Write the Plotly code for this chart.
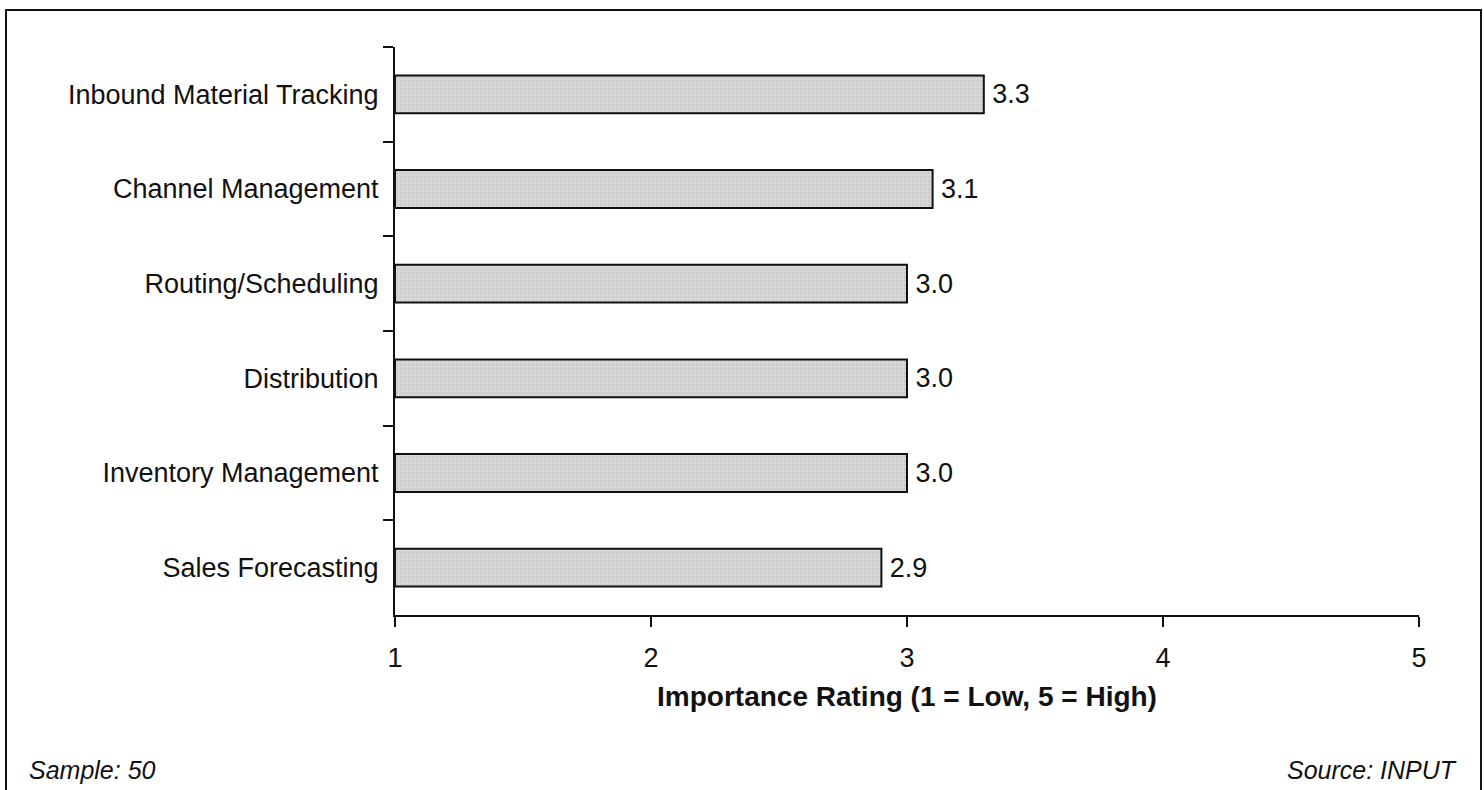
import plotly.graph_objects as go

# Survey results: importance of logistics applications
categories = [
    "Inbound Material Tracking",
    "Channel Management",
    "Routing/Scheduling",
    "Distribution",
    "Inventory Management",
    "Sales Forecasting",
]
ratings = [3.3, 3.1, 3.0, 3.0, 3.0, 2.9]
x_ticks = [1, 2, 3, 4, 5]

FONT = "Liberation Sans, Arial, Helvetica, sans-serif"
INK = "#111111"

W, H = 1484, 790
L, R, T, B = 395, 65, 47, 175
pw, ph = W - L - R, H - T - B


def px_to_paper_x(px):
    return (px - L) / pw


def px_to_paper_y(py):
    return (H - B - py) / ph


fig = go.Figure(
    go.Bar(
        # bars start at 1 on the rating scale, so the drawn length is rating - 1
        x=[v - 1 for v in ratings],
        y=categories,
        base=1,
        orientation="h",
        width=0.40,
        marker=dict(
            color="#d3d3d3",
            line=dict(color=INK, width=2),
            pattern=dict(shape=".", fgcolor="#bdbdbd", bgcolor="#d6d6d6",
                         size=4, solidity=0.25),
        ),
        text=[f"{v:.1f}" for v in ratings],
        texttemplate="\u2009%{text}",
        textposition="outside",
        textfont=dict(family=FONT, size=27, color=INK),
        cliponaxis=False,
        constraintext="none",
        hoverinfo="skip",
    )
)

fig.update_layout(
    width=W,
    height=H,
    margin=dict(l=L, r=R, t=T, b=B, pad=0),
    paper_bgcolor="white",
    plot_bgcolor="white",
    showlegend=False,
    font=dict(family=FONT, size=27, color=INK),
    xaxis=dict(
        range=[1, 5],
        tickvals=x_ticks,
        ticktext=[str(v) for v in x_ticks],
        showline=True,
        linecolor=INK,
        linewidth=2,
        ticks="outside",
        ticklen=10,
        tickwidth=2,
        tickcolor=INK,
        showgrid=False,
        zeroline=False,
        tickfont=dict(family=FONT, size=27, color=INK),
        ticklabelstandoff=8,
        title=dict(
            text="<b>Importance Rating (1 = Low, 5 = High)</b>",
            font=dict(family=FONT, size=28, color=INK),
            standoff=14,
        ),
    ),
    yaxis=dict(
        type="category",
        categoryorder="array",
        categoryarray=categories,
        range=[5.5, -0.5],
        showline=True,
        linecolor=INK,
        linewidth=2,
        ticks="outside",
        tickson="boundaries",
        ticklen=10,
        tickwidth=2,
        tickcolor=INK,
        showgrid=False,
        zeroline=False,
        tickfont=dict(family=FONT, size=27, color=INK),
        ticklabelstandoff=9,
    ),
    annotations=[
        dict(
            text="<i>Sample: 50</i>",
            xref="paper", yref="paper",
            x=px_to_paper_x(27), y=px_to_paper_y(770),
            xanchor="left", yanchor="middle",
            showarrow=False,
            font=dict(family=FONT, size=25, color=INK),
        ),
        dict(
            text="<i>Source: INPUT</i>",
            xref="paper", yref="paper",
            x=px_to_paper_x(1459), y=px_to_paper_y(770),
            xanchor="right", yanchor="middle",
            showarrow=False,
            font=dict(family=FONT, size=25, color=INK),
        ),
    ],
    shapes=[
        # outer frame around the figure (open at the bottom edge)
        dict(
            type="path",
            xref="paper", yref="paper",
            path=(
                f"M {px_to_paper_x(6)},{px_to_paper_y(800)} "
                f"L {px_to_paper_x(6)},{px_to_paper_y(10)} "
                f"L {px_to_paper_x(1481)},{px_to_paper_y(10)} "
                f"L {px_to_paper_x(1481)},{px_to_paper_y(800)}"
            ),
            line=dict(color=INK, width=2),
            layer="above",
        )
    ],
)

fig.write_html("out.html")
